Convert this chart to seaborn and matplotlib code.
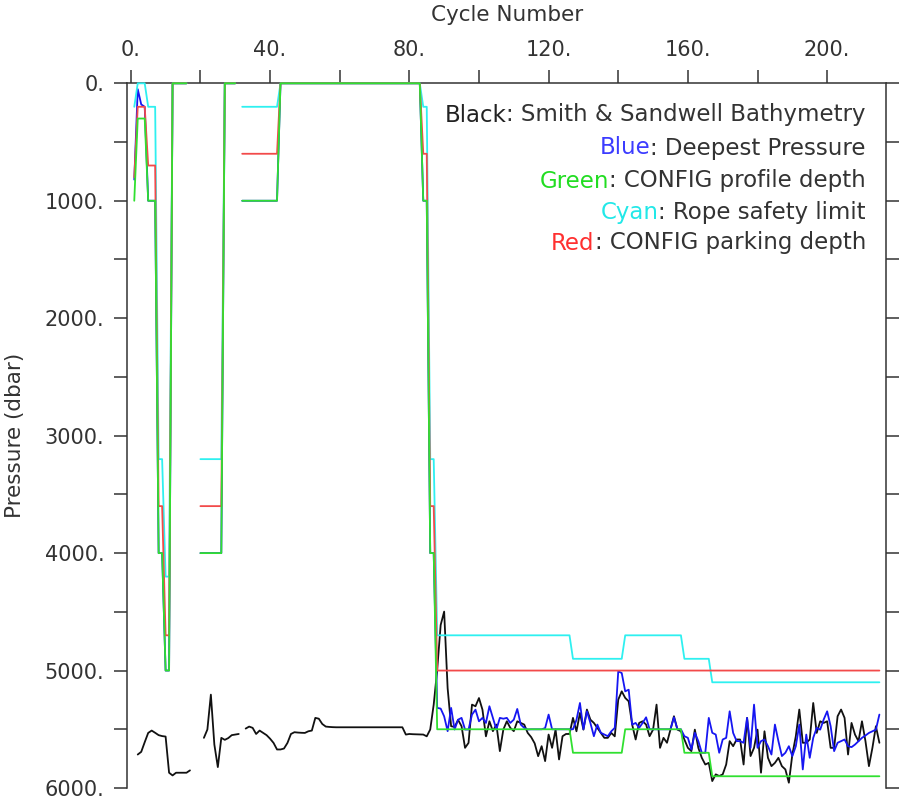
import numpy as np
import pandas as pd
import matplotlib
matplotlib.use("Agg")
import matplotlib.pyplot as plt
from matplotlib.ticker import MultipleLocator, FuncFormatter
import seaborn as sns

nan = np.nan
cycles = list(range(1, 216))

# Smith & Sandwell bathymetry at each cycle (dbar)
bathymetry = [
    nan, 5715, 5692, 5610, 5531, 5511, 5530, 5550, 5558, 5562,      # 1-10
    5870, 5893, 5870, 5870, 5870, 5870, 5850, nan, nan, nan,        # 11-20
    5573, 5502, 5205, 5630, 5822, 5573, 5590, 5575, 5550, 5545,     # 21-30
    5540, nan, 5494, 5477, 5488, 5540, 5511, 5530, 5550, 5580,      # 31-40
    5616, 5672, 5672, 5664, 5616, 5540, 5525, 5528, 5530, 5531,     # 41-50
    5517, 5511, 5403, 5410, 5455, 5477, 5480, 5482, 5483, 5483,     # 51-60
    5483, 5483, 5483, 5483, 5483, 5483, 5483, 5483, 5483, 5483,     # 61-70
    5483, 5483, 5483, 5483, 5483, 5483, 5483, 5483, 5545, 5540,     # 71-80
    5542, 5543, 5544, 5545, 5560, 5502, 5290, 4994, 4612, 4498,     # 81-90
    5150, 5474, 5480, 5420, 5474, 5658, 5616, 5290, 5304, 5234,     # 91-100
    5333, 5560, 5432, 5516, 5460, 5686, 5502, 5432, 5488, 5516,     # 101-110
    5432, 5446, 5460, 5531, 5567, 5620, 5729, 5644, 5771, 5545,     # 111-120
    5658, 5502, 5757, 5559, 5540, 5540, 5403, 5517, 5361, 5503,     # 121-130
    5332, 5418, 5446, 5488, 5531, 5573, 5573, 5531, 5560, 5248,     # 131-140
    5177, 5233, 5262, 5460, 5587, 5446, 5432, 5460, 5559, 5503,     # 141-150
    5290, 5658, 5573, 5615, 5503, 5389, 5503, 5517, 5587, 5658,     # 151-160
    5686, 5503, 5658, 5743, 5800, 5786, 5941, 5884, 5898, 5884,     # 161-170
    5800, 5601, 5644, 5587, 5587, 5800, 5403, 5728, 5658, 5503,     # 171-180
    5870, 5517, 5743, 5814, 5786, 5743, 5814, 5842, 5955, 5715,     # 181-190
    5559, 5332, 5615, 5615, 5587, 5276, 5531, 5432, 5446, 5432,     # 191-200
    5658, 5658, 5389, 5332, 5403, 5715, 5446, 5545, 5601, 5432,     # 201-210
    5601, 5814, 5658, 5474, 5615,                                   # 211-215
]

# deepest pressure reached on each cycle (dbar)
deepest_pressure = [
    820, 50, 180, 200, 1000, 1000, 1000, 4000, 4000, 5000,          # 1-10
    5000, 0, 0, 0, 0, 0, nan, nan, nan, 4000,                       # 11-20
    4000, 4000, 4000, 4000, 4000, 4000, 0, 0, 0, 0,                 # 21-30
    nan, 1000, 1000, 1000, 1000, 1000, 1000, 1000, 1000, 1000,      # 31-40
    1000, 1000, 0, 0, 0, 0, 0, 0, 0, 0,                             # 41-50
    0, 0, 0, 0, 0, 0, 0, 0, 0, 0,                                   # 51-60
    0, 0, 0, 0, 0, 0, 0, 0, 0, 0,                                   # 61-70
    0, 0, 0, 0, 0, 0, 0, 0, 0, 0,                                   # 71-80
    0, 0, 0, 1000, 1000, 4000, 4000, 5318, 5324, 5390,              # 81-90
    5516, 5318, 5502, 5418, 5403, 5502, 5502, 5375, 5333, 5432,     # 91-100
    5403, 5446, 5304, 5403, 5502, 5403, 5410, 5403, 5446, 5418,     # 101-110
    5327, 5460, 5488, 5502, 5500, 5500, 5500, 5500, 5490, 5375,     # 111-120
    5500, 5500, 5500, 5500, 5500, 5500, 5500, 5420, 5276, 5500,     # 121-130
    5347, 5446, 5559, 5460, 5530, 5545, 5559, 5517, 5488, 5007,     # 131-140
    5021, 5177, 5163, 5460, 5446, 5488, 5446, 5398, 5500, 5500,     # 141-150
    5500, 5500, 5500, 5500, 5500, 5398, 5500, 5500, 5559, 5573,     # 151-160
    5672, 5530, 5601, 5700, 5700, 5403, 5530, 5545, 5700, 5587,     # 161-170
    5573, 5347, 5531, 5601, 5601, 5615, 5403, 5658, 5290, 5658,     # 171-180
    5601, 5587, 5644, 5715, 5460, 5601, 5728, 5700, 5644, 5728,     # 181-190
    5644, 5460, 5842, 5545, 5743, 5573, 5488, 5503, 5417, 5347,     # 191-200
    5474, 5686, 5615, 5601, 5587, 5644, 5652, 5630, 5601, 5573,     # 201-210
    5553, 5531, 5517, 5503, 5375,                                   # 211-215
]

# CONFIG settings: (first cycle, last cycle, value in dbar)
profile_depth_steps = [
    (1, 1, 1000), (2, 4, 300), (5, 7, 1000), (8, 9, 4000), (10, 11, 5000),
    (12, 16, 0), (20, 26, 4000), (27, 30, 0), (32, 42, 1000), (43, 83, 0),
    (84, 85, 1000), (86, 87, 4000), (88, 126, 5500), (127, 141, 5700),
    (142, 158, 5500), (159, 166, 5700), (167, 215, 5900),
]
rope_limit_steps = [
    (1, 1, 200), (2, 4, 0), (5, 7, 200), (8, 9, 3200), (10, 11, 4200),
    (12, 16, 0), (20, 26, 3200), (27, 30, 0), (32, 42, 200), (43, 83, 0),
    (84, 85, 200), (86, 87, 3200), (88, 126, 4700), (127, 141, 4900),
    (142, 158, 4700), (159, 166, 4900), (167, 215, 5100),
]
parking_depth_steps = [
    (1, 1, 800), (2, 4, 200), (5, 7, 700), (8, 9, 3600), (10, 11, 4700),
    (12, 16, 0), (20, 26, 3600), (27, 30, 0), (32, 42, 600), (43, 83, 0),
    (84, 85, 600), (86, 87, 3600), (88, 215, 5000),
]


def expand(steps):
    vals = [nan] * len(cycles)
    for first, last, v in steps:
        for c in range(first, last + 1):
            vals[c - 1] = v
    return vals


def to_rows(name, values):
    """Long rows, with a new segment id after every gap."""
    rows = []
    seg = 0
    in_gap = True
    for c, v in zip(cycles, values):
        if np.isnan(v):
            in_gap = True
            continue
        if in_gap:
            seg += 1
            in_gap = False
        rows.append((name, seg, c, v))
    return rows


assert len(bathymetry) == len(cycles) and len(deepest_pressure) == len(cycles)

series = [
    ("bathy", bathymetry, "#111111", 2),
    ("deepest", deepest_pressure, "#1616f2", 3),
    ("rope", expand(rope_limit_steps), "#2ef0f0", 4),
    ("park", expand(parking_depth_steps), "#f24a4a", 5),
    ("profile", expand(profile_depth_steps), "#30e030", 6),
]

rows = []
for name, vals, _, _ in series:
    rows += to_rows(name, vals)
df = pd.DataFrame(rows, columns=["series", "seg", "cycle", "pressure"])

sns.set_theme(style="white")
plt.rcParams["font.family"] = ["DejaVu Sans"]
grey = "#333333"

fig = plt.figure(figsize=(9, 8), dpi=100)
ax = fig.add_axes([127.3 / 900, 12 / 800, (886 - 127.3) / 900, (788 - 83.3) / 800])

for name, _, col, z in series:
    sns.lineplot(data=df[df.series == name], x="cycle", y="pressure", units="seg",
                 estimator=None, color=col, lw=1.3, ax=ax, legend=False,
                 clip_on=False, zorder=z)

ax.set_xlim(-1, 216.9)
ax.set_ylim(6000, 0)

ax.xaxis.tick_top()
ax.xaxis.set_label_position("top")
ax.xaxis.set_major_locator(MultipleLocator(40))
ax.xaxis.set_minor_locator(MultipleLocator(20))
ax.yaxis.set_major_locator(MultipleLocator(1000))
ax.yaxis.set_minor_locator(MultipleLocator(500))
fmt = FuncFormatter(lambda v, p: f"{v:.0f}.")
ax.xaxis.set_major_formatter(fmt)
ax.yaxis.set_major_formatter(fmt)

ax.tick_params(axis="both", which="both", direction="out", length=9.5, width=1.1,
               color=grey, labelcolor=grey, labelsize=15, pad=7)
ax.tick_params(axis="y", which="both", left=True, right=True, labelright=False)
ax.tick_params(axis="x", which="both", top=True, bottom=False)

ax.set_xlabel("Cycle Number", fontsize=15.5, color=grey, labelpad=14)
ax.set_ylabel("Pressure (dbar)", fontsize=15.5, color=grey, labelpad=14)

for side in ["top", "left", "right"]:
    ax.spines[side].set_color(grey)
    ax.spines[side].set_linewidth(1.1)
ax.spines["bottom"].set_visible(False)

# colour key written as text lines, top right
key = [
    ("Black", ": Smith & Sandwell Bathymetry", "#222222"),
    ("Blue", ": Deepest Pressure", "#3c3cff"),
    ("Green", ": CONFIG profile depth", "#22dd22"),
    ("Cyan", ": Rope safety limit", "#22e8e8"),
    ("Red", ": CONFIG parking depth", "#ff3030"),
]
key_y = [115, 148, 181, 212, 243]
for (word, rest, col), y in zip(key, key_y):
    t = fig.text(866 / 900, 1 - y / 800, rest, ha="right", va="center",
                 fontsize=16.5, color=grey)
    ax.annotate(word, xy=(0, 0), xycoords=t, ha="right", va="bottom",
                fontsize=16.5, color=col)

fig.savefig("out.png", dpi=100)
